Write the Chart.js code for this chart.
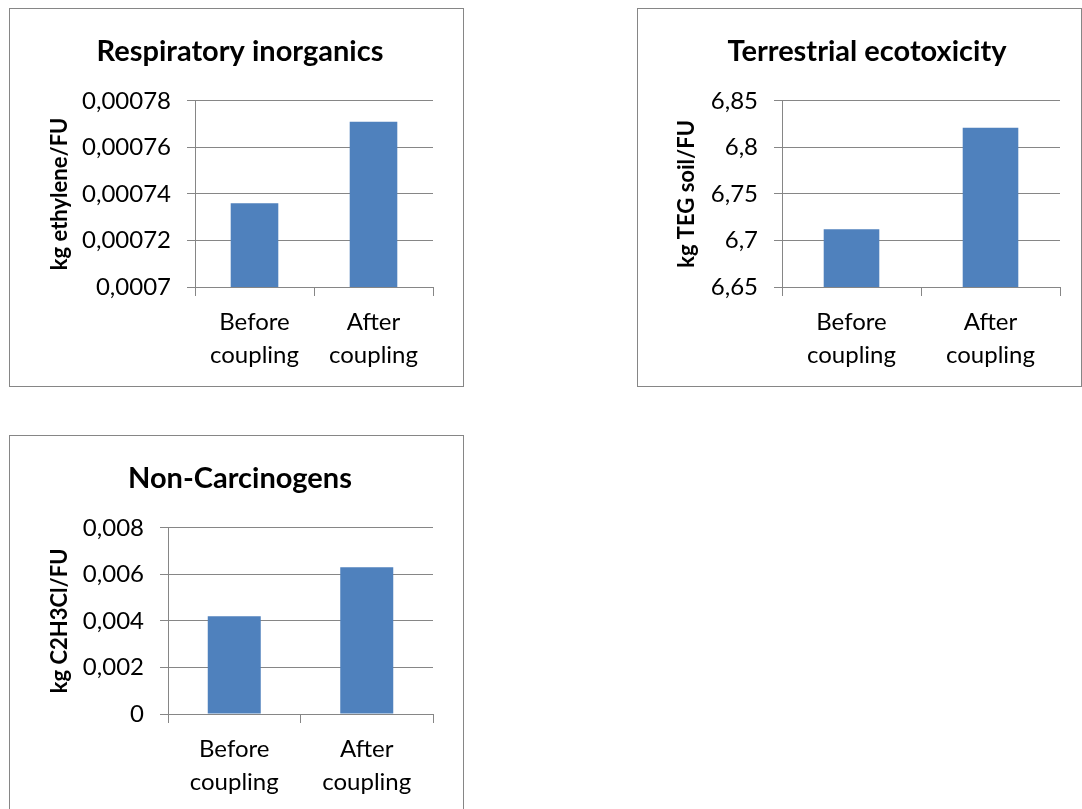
<!DOCTYPE html>
<html>
<head>
<meta charset="utf-8">
<script src="https://cdn.jsdelivr.net/npm/chart.js@4"></script>
<style>
  body { margin: 0; background: #fff; width: 1082px; height: 809px; overflow: hidden; position: relative; }
  .box { position: absolute; box-sizing: border-box; border: 1px solid #868686; background: #fff; }
  .box canvas { display: block; }
</style>
</head>
<body>
<div class="box" style="left:9px;top:8px;width:455px;height:379px"><canvas id="c1" width="453" height="377"></canvas></div>
<div class="box" style="left:637px;top:8px;width:445px;height:379px"><canvas id="c2" width="443" height="377"></canvas></div>
<div class="box" style="left:9px;top:435px;width:455px;height:379px"><canvas id="c3" width="453" height="377"></canvas></div>
<script>
const categories = [['Before', 'coupling'], ['After', 'coupling']];

const respValues = [0.000736, 0.000771];
const respTicks = [0.0007, 0.00072, 0.00074, 0.00076, 0.00078];
const respTickLabels = ['0,0007', '0,00072', '0,00074', '0,00076', '0,00078'];

const terrValues = [6.712, 6.821];
const terrTicks = [6.65, 6.7, 6.75, 6.8, 6.85];
const terrTickLabels = ['6,65', '6,7', '6,75', '6,8', '6,85'];

const nonCarcValues = [0.0042, 0.0063];
const nonCarcTicks = [0, 0.002, 0.004, 0.006, 0.008];
const nonCarcTickLabels = ['0', '0,002', '0,004', '0,006', '0,008'];

const FONT = 'Lato, "Open Sans", sans-serif';
const GRID = '#868686';

function makeChart(id, cfg) {
  const ctx = document.getElementById(id).getContext('2d');
  return new Chart(ctx, {
    type: 'bar',
    data: {
      labels: categories,
      datasets: [{
        data: cfg.values,
        backgroundColor: '#4F81BD',
        borderWidth: 0,
        barPercentage: 0.4,
        categoryPercentage: 1
      }]
    },
    options: {
      responsive: false,
      animation: false,
      layout: { padding: { left: cfg.padLeft, right: cfg.padRight, top: 0, bottom: 0 } },
      plugins: {
        legend: { display: false },
        tooltip: { enabled: false },
        title: {
          display: true,
          text: cfg.title,
          color: '#000',
          font: { family: FONT, size: 29, weight: 'bold', lineHeight: 1.2 },
          padding: { top: 25, bottom: 32 }
        }
      },
      scales: {
        x: {
          grid: { display: true, drawOnChartArea: false, tickLength: 9, color: GRID, offset: true },
          border: { color: GRID },
          ticks: { padding: 9, color: '#000', font: { family: FONT, size: 24, lineHeight: 1.4 } },
          afterFit: s => { s.height = 99; }
        },
        y: {
          min: cfg.ticks[0],
          max: cfg.ticks[cfg.ticks.length - 1],
          afterBuildTicks: s => { s.ticks = cfg.ticks.map(v => ({ value: v })); },
          afterFit: s => { s.width = cfg.axisWidth; },
          grid: { color: GRID, tickLength: 8 },
          border: { color: GRID },
          ticks: {
            padding: 16,
            color: '#000',
            font: { family: FONT, size: 24 },
            callback: (v, i) => cfg.tickLabels[i]
          },
          title: {
            display: true,
            text: cfg.yTitle,
            color: '#000',
            padding: 0,
            font: { family: FONT, size: 22, weight: 'bold', lineHeight: 1.2 }
          }
        }
      }
    }
  });
}

makeChart('c1', {
  title: 'Respiratory inorganics', yTitle: 'kg ethylene/FU',
  values: respValues, ticks: respTicks, tickLabels: respTickLabels,
  padLeft: 37, axisWidth: 148, padRight: 30
});
makeChart('c2', {
  title: 'Terrestrial ecotoxicity', yTitle: 'kg TEG soil/FU',
  values: terrValues, ticks: terrTicks, tickLabels: terrTickLabels,
  padLeft: 36, axisWidth: 108, padRight: 21
});
makeChart('c3', {
  title: 'Non-Carcinogens', yTitle: 'kg C2H3Cl/FU',
  values: nonCarcValues, ticks: nonCarcTicks, tickLabels: nonCarcTickLabels,
  padLeft: 37, axisWidth: 121, padRight: 30
});
</script>
</body>
</html>
